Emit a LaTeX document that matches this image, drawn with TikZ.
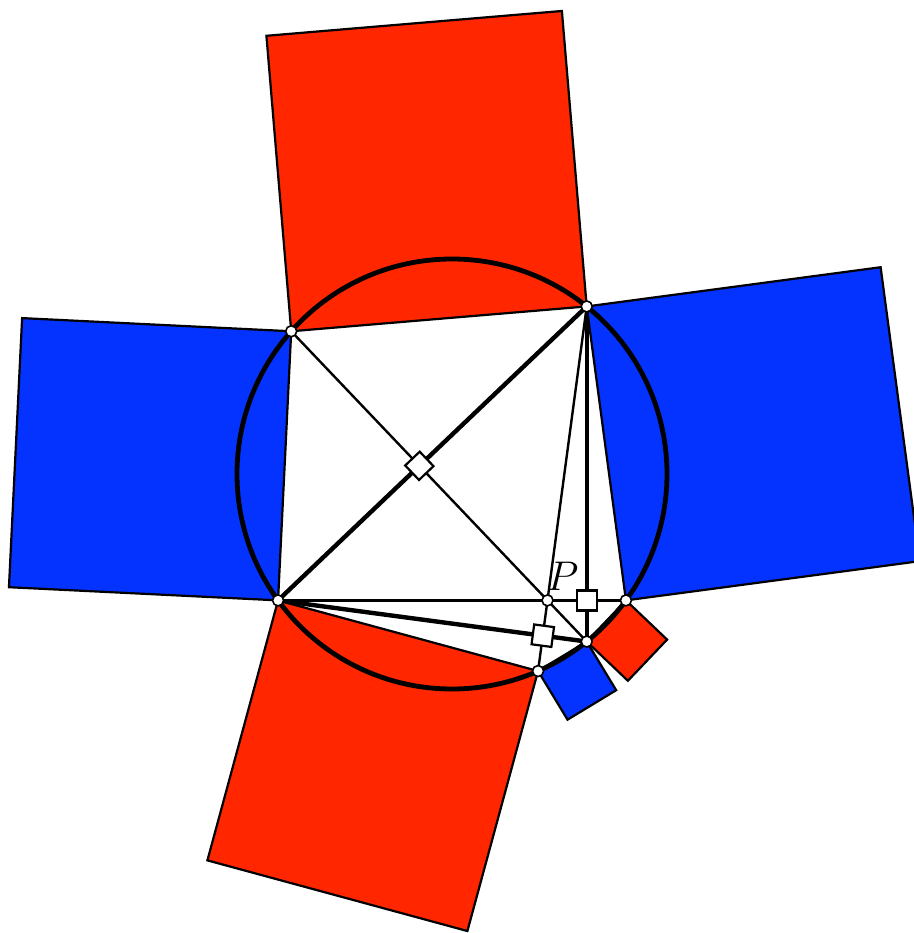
\documentclass[tikz,border=0pt]{standalone}
\usetikzlibrary{calc}
\definecolor{sqred}{RGB}{255,38,0}
\definecolor{sqblue}{RGB}{4,51,255}
\begin{document}
\begin{tikzpicture}[x=0.5pt,y=0.5pt,
  sqbox/.style={draw=black, line width=1.1pt, line join=miter},
  thinseg/.style={line width=1.2pt},
  thickseg/.style={line width=2.2pt},
  rim/.style={line width=2.4pt},
  marker/.style={rectangle, draw=black, fill=white, line width=1.1pt, minimum size=10pt, inner sep=0pt},
  dot/.style={circle, draw=black, fill=white, line width=0.8pt, minimum size=5.5pt, inner sep=0pt}]
\clip (-452,-459) rectangle (462,474);
\coordinate (O) at (0,0);
\coordinate (A) at (138.4:215);
\coordinate (B) at (51.2:215);
\coordinate (C) at (216:215);
\coordinate (D) at (-36:215);
\coordinate (F) at (-51.2:215);
\coordinate (P) at (intersection of A--F and C--D);
\coordinate (E) at (86.06,-197.03);
\newcommand\sqon[3]{\filldraw[sqbox, fill=#3] (#1) -- (#2) -- ($(#2)!1!90:(#1)$) -- ($(#1)!1!-90:(#2)$) -- cycle;}
\sqon{B}{A}{sqred}
\sqon{A}{C}{sqblue}
\sqon{C}{E}{sqred}
\sqon{E}{F}{sqblue}
\sqon{F}{D}{sqred}
\sqon{D}{B}{sqblue}
\draw[rim] (O) circle[radius=215];
\draw[thinseg] (A) -- (F);
\draw[thinseg] (B) -- (E);
\draw[thinseg] (C) -- (D);
\draw[thickseg] (B) -- (C);
\draw[thickseg] (B) -- (F);
\draw[thickseg] (C) -- (F);
\node[marker, rotate=43.6] (M1) at (intersection of A--F and B--C) {};
\node[marker] (M2) at (intersection of B--F and C--D) {};
\node[marker, rotate=-7.6] (M3) at (intersection of B--E and C--F) {};
\node[font=\fontsize{20}{24}\selectfont] (Plab) at ($(P)+(15,24)$) {$P$};
\foreach \p in {A,B,C,D,E,F,P} \node[dot] (d\p) at (\p) {};
\end{tikzpicture}
\end{document}
